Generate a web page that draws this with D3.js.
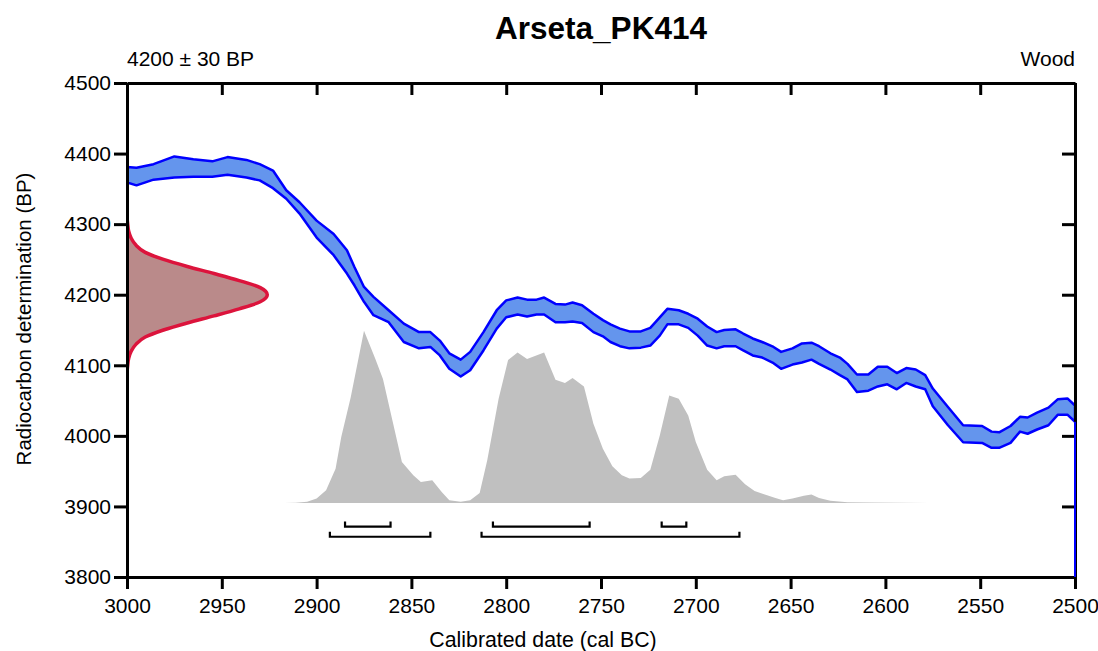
<!DOCTYPE html>
<html lang="en">
<head>
  <meta charset="UTF-8">
  <title>Arseta_PK414</title>
  <script src="https://d3js.org/d3.v7.min.js"></script>
  <style>
    body { margin: 0; background: #fff; }
    svg { display: block; font-family: "Liberation Sans", Arial, sans-serif; }
  </style>
</head>
<body>
  <script>
    // calibration curve (cal BC, upper / lower 1 sigma bound in BP)
    const curveYears = [3000,2995,2986,2975,2965,2955,2947,2937,2930,2923,2916,2909,2900,2891,2884,2880,2875,2870,2862,2854,2846,2840,2835,2830,2824,2819,2812,2805,2800,2794,2789,2784,2780,2774,2769,2765,2760,2754,2749,2745,2740,2735,2729,2724,2719,2715,2709,2704,2699,2694,2689,2685,2679,2675,2670,2665,2659,2655,2649,2644,2639,2635,2629,2624,2620,2615,2609,2604,2599,2594,2589,2584,2579,2575,2567,2559,2549,2544,2540,2534,2529,2525,2520,2514,2509,2504,2500];
    const curveUpper = [4381,4380,4385,4396,4392,4389,4395,4391,4385,4376,4348,4331,4305,4286,4263,4239,4211,4197,4178,4159,4147,4147,4135,4117,4108,4119,4147,4178,4192,4196,4193,4193,4196,4187,4186,4189,4185,4173,4164,4158,4152,4148,4148,4153,4168,4180,4178,4173,4166,4155,4147,4150,4151,4145,4138,4133,4126,4119,4124,4131,4132,4127,4117,4111,4102,4087,4087,4098,4098,4089,4096,4094,4086,4067,4041,4015,4014,4006,4005,4014,4027,4026,4033,4040,4052,4053,4043];
    const curveLower = [4359,4355,4363,4366,4367,4367,4370,4366,4362,4351,4336,4315,4281,4256,4230,4213,4190,4171,4161,4133,4124,4126,4114,4095,4084,4093,4121,4152,4168,4172,4169,4172,4172,4161,4161,4162,4160,4147,4141,4133,4127,4124,4125,4128,4142,4158,4158,4153,4142,4128,4124,4127,4127,4121,4114,4111,4103,4095,4101,4104,4108,4102,4094,4086,4080,4062,4064,4070,4073,4066,4075,4070,4066,4042,4015,3991,3990,3983,3983,3990,4006,4003,4009,4015,4030,4030,4020];

    // radiocarbon measurement 4200 +/- 30 BP (relative density)
    const measBP = [4310,4300,4290,4280,4270,4260,4250,4240,4230,4220,4210,4200,4190,4180,4170,4160,4150,4140,4130,4120,4110,4100,4090];
    const measDens = [0,0.005,0.012,0.03,0.065,0.13,0.26,0.43,0.62,0.8,0.95,1,0.95,0.8,0.62,0.43,0.26,0.13,0.065,0.03,0.012,0.005,0];

    // calibrated probability (relative)
    const distYears = [2917,2911,2905,2900,2895,2890,2887,2882,2875,2869,2865,2860,2855,2849,2845,2839,2834,2830,2824,2819,2814,2810,2804,2799,2794,2789,2780,2774,2769,2765,2759,2754,2749,2744,2739,2735,2729,2724,2719,2714,2709,2704,2700,2694,2689,2685,2679,2674,2669,2664,2658,2654,2649,2643,2639,2635,2629,2620,2608,2592,2577];
    const distProb = [0,0.001,0.006,0.025,0.074,0.199,0.382,0.614,1,0.836,0.72,0.479,0.237,0.16,0.122,0.131,0.064,0.016,0.006,0.016,0.058,0.247,0.605,0.83,0.874,0.836,0.874,0.715,0.697,0.726,0.676,0.46,0.315,0.213,0.16,0.141,0.145,0.193,0.392,0.624,0.605,0.508,0.353,0.193,0.131,0.155,0.164,0.108,0.069,0.05,0.029,0.016,0.025,0.041,0.049,0.029,0.012,0.004,0.002,0.001,0];

    // hpd ranges
    const range68 = [[2885,2861],[2807,2756],[2718,2705]];
    const range95 = [[2893,2840],[2813,2677]];

    const xTicks = d3.range(3000, 2499, -50);
    const yTicks = d3.range(3800, 4501, 100);

    const width = 1098, height = 651;
    const plotLeft = 127, plotRight = 1075, plotTop = 83, plotBottom = 577;

    const x = d3.scaleLinear().domain([3000, 2500]).range([plotLeft, plotRight]);
    const y = d3.scaleLinear().domain([3800, 4500]).range([plotBottom, plotTop]);

    const distBase = 3905, distHeight = 244;   // BP units
    const measWidth = 74;                        // cal years at peak
    const row68 = 3871.5, row95 = 3857, bracketTick = 7;

    const svg = d3.select("body")
      .append("svg")
      .attr("width", width)
      .attr("height", height);

    svg.append("clipPath").attr("id", "plot")
      .append("rect")
      .attr("x", plotLeft).attr("y", plotTop)
      .attr("width", plotRight - plotLeft).attr("height", plotBottom - plotTop);

    const plot = svg.append("g").attr("clip-path", "url(#plot)");

    // calibrated distribution
    const dist = distYears.map((d, i) => ({ yr: d, p: distProb[i] }));
    plot.append("path")
      .datum(dist)
      .attr("fill", "#c0c0c0")
      .attr("d", d3.area()
        .x(d => x(d.yr))
        .y0(y(distBase))
        .y1(d => y(distBase + d.p * distHeight)));

    // measurement on the y axis
    const meas = measBP.map((d, i) => ({ bp: d, v: measDens[i] }));
    plot.append("path")
      .datum(meas)
      .attr("fill", "#ba8a8a")
      .attr("stroke", "#dc143c")
      .attr("stroke-width", 3.5)
      .attr("stroke-linejoin", "round")
      .attr("d", d3.area()
        .curve(d3.curveMonotoneY)
        .y(d => y(d.bp))
        .x0(x(3000))
        .x1(d => x(3000 - d.v * measWidth)));

    // calibration curve band
    const curve = curveYears.map((d, i) => ({ yr: d, hi: curveUpper[i], lo: curveLower[i] }));
    plot.append("path")
      .datum(curve)
      .attr("fill", "#6495ed")
      .attr("stroke", "#0000ff")
      .attr("stroke-width", 2.5)
      .attr("stroke-linejoin", "round")
      .attr("d", d3.area()
        .x(d => x(d.yr))
        .y0(d => y(d.lo))
        .y1(d => y(d.hi)));

    // range brackets
    function brackets(ranges, row) {
      svg.append("g")
        .selectAll("path")
        .data(ranges)
        .join("path")
        .attr("fill", "none")
        .attr("stroke", "#000")
        .attr("stroke-width", 2.2)
        .attr("d", d => {
          const p = d3.path();
          p.moveTo(x(d[0]), y(row + bracketTick));
          p.lineTo(x(d[0]), y(row));
          p.lineTo(x(d[1]), y(row));
          p.lineTo(x(d[1]), y(row + bracketTick));
          return p.toString();
        });
    }
    brackets(range68, row68);
    brackets(range95, row95);

    // axes
    function styleAxis(g) {
      g.selectAll(".domain").attr("stroke-width", 3);
      g.selectAll(".tick line").attr("stroke-width", 3);
      g.selectAll("text").attr("font-size", 21).attr("fill", "#000")
        .attr("font-family", "'Liberation Sans', Arial, sans-serif");
    }

    svg.append("g")
      .attr("transform", `translate(0,${plotBottom})`)
      .call(d3.axisBottom(x).tickValues(xTicks).tickSize(12).tickSizeOuter(0).tickPadding(9).tickFormat(d3.format("d")))
      .call(styleAxis);

    svg.append("g")
      .attr("transform", `translate(0,${plotTop})`)
      .call(d3.axisTop(x).tickValues(xTicks).tickSize(-12).tickSizeOuter(0).tickFormat(""))
      .call(styleAxis);

    svg.append("g")
      .attr("transform", `translate(${plotLeft},0)`)
      .call(d3.axisLeft(y).tickValues(yTicks).tickSize(13).tickSizeOuter(0).tickPadding(3).tickFormat(d3.format("d")))
      .call(styleAxis);

    svg.append("g")
      .attr("transform", `translate(${plotRight},0)`)
      .call(d3.axisRight(y).tickValues(yTicks).tickSize(-13).tickSizeOuter(0).tickFormat(""))
      .call(styleAxis);

    // band edge running down the right side, over the axis
    svg.append("line")
      .attr("x1", x(2500)).attr("x2", x(2500))
      .attr("y1", y(curveLower[curveLower.length - 1])).attr("y2", y(3800))
      .attr("stroke", "#0000ff")
      .attr("stroke-width", 2);

    // texts
    svg.append("text")
      .attr("x", (plotLeft + plotRight) / 2).attr("y", 39)
      .attr("text-anchor", "middle")
      .attr("font-size", 31.5).attr("font-weight", "bold")
      .text("Arseta_PK414");

    svg.append("text")
      .attr("x", plotLeft).attr("y", 66)
      .attr("font-size", 21)
      .text("4200 \u00b1 30 BP");

    svg.append("text")
      .attr("x", plotRight).attr("y", 66)
      .attr("text-anchor", "end")
      .attr("font-size", 21)
      .text("Wood");

    svg.append("text")
      .attr("x", 543).attr("y", 647)
      .attr("text-anchor", "middle")
      .attr("font-size", 21.3)
      .text("Calibrated date (cal BC)");

    svg.append("text")
      .attr("transform", "translate(31,319) rotate(-90)")
      .attr("text-anchor", "middle")
      .attr("font-size", 20.5)
      .text("Radiocarbon determination (BP)");
  </script>
</body>
</html>
